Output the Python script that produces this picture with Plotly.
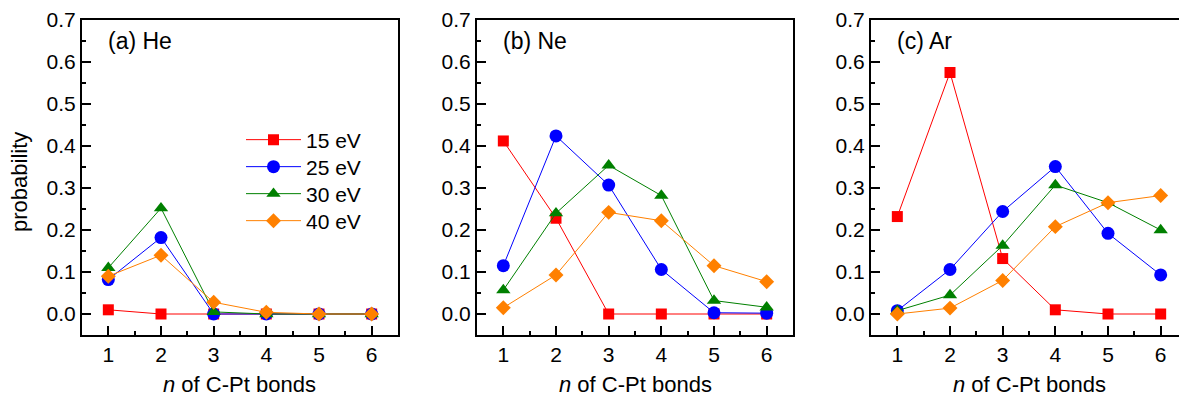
import plotly.graph_objects as go

n_bonds = [1, 2, 3, 4, 5, 6]
energies = ["15 eV", "25 eV", "30 eV", "40 eV"]

# He
he_15 = [0.010, 0.000, 0.000, 0.000, 0.000, 0.000]
he_25 = [0.082, 0.182, 0.000, 0.000, 0.000, 0.000]
he_30 = [0.110, 0.252, 0.005, 0.000, 0.000, 0.000]
he_40 = [0.090, 0.140, 0.028, 0.004, 0.000, 0.000]
# Ne
ne_15 = [0.412, 0.228, 0.000, 0.000, 0.000, 0.000]
ne_25 = [0.115, 0.424, 0.307, 0.106, 0.003, 0.002]
ne_30 = [0.057, 0.240, 0.354, 0.282, 0.032, 0.016]
ne_40 = [0.015, 0.093, 0.242, 0.222, 0.115, 0.077]
# Ar
ar_15 = [0.232, 0.575, 0.132, 0.010, 0.000, 0.000]
ar_25 = [0.008, 0.106, 0.244, 0.351, 0.192, 0.093]
ar_30 = [0.008, 0.045, 0.163, 0.307, 0.265, 0.200]
ar_40 = [0.000, 0.014, 0.080, 0.208, 0.265, 0.282]

panels = [
    ("(a) He", [he_15, he_25, he_30, he_40]),
    ("(b) Ne", [ne_15, ne_25, ne_30, ne_40]),
    ("(c) Ar", [ar_15, ar_25, ar_30, ar_40]),
]

colors = ["#FF0000", "#0000FF", "#008000", "#FF8000"]
symbols = ["square", "circle", "triangle-up", "diamond"]
msizes = [11, 13, 12.5, 11.5]

W, H = 1179, 396
FONT = "Liberation Sans, Arial, sans-serif"
xpix = [(82, 398), (477, 793), (871, 1179)]
unit = (398 - 82) / 6.0
top, bot = 20, 335
legend_rows = [140, 167, 194, 221]
legend_names = ["legend", "legend2", "legend3", "legend4"]

fig = go.Figure()
for p, (label, series) in enumerate(panels):
    ax = "" if p == 0 else str(p + 1)
    for i, ys in enumerate(series):
        fig.add_trace(go.Scatter(
            x=n_bonds, y=ys, mode="lines+markers", name=energies[i],
            xaxis="x" + ax, yaxis="y" + ax,
            line=dict(color=colors[i], width=1),
            marker=dict(symbol=symbols[i], size=msizes[i], color=colors[i], line=dict(width=0)),
            showlegend=(p == 0), legend=legend_names[i],
        ))
    x0, x1 = xpix[p]
    xr_end = 0.5 + (x1 - x0) / unit
    common = dict(showline=True, linecolor="black", linewidth=2, ticks="inside",
                  ticklen=9, tickwidth=1.5, tickcolor="black", showgrid=False, zeroline=False,
                  automargin=False,
                  tickfont=dict(family=FONT, size=21, color="black"))
    fig.update_layout(**{
        "xaxis" + ax: dict(domain=[x0 / W, x1 / W], range=[0.5, xr_end], anchor="y" + ax,
                           tickvals=n_bonds, mirror=True,
                           minor=dict(ticks="inside", ticklen=4, tickwidth=1.5, tickcolor="black", dtick=0.5, tick0=0.5),
                           **common),
        "yaxis" + ax: dict(domain=[1 - bot / H, 1 - top / H], range=[-0.05, 0.7], anchor="x" + ax,
                           dtick=0.1, tick0=0, tickformat=".1f", mirror=(p < 2),
                           minor=dict(ticks="inside", ticklen=4, tickwidth=1.5, tickcolor="black", dtick=0.05, tick0=0.05),
                           **common),
    })
    fig.add_annotation(text=label, xref="paper", yref="paper", x=(x0 + 24) / W, y=1 - 41 / H,
                       xanchor="left", yanchor="middle", showarrow=False,
                       font=dict(family=FONT, size=23, color="black"))
    fig.add_annotation(text="<i>n</i> of C-Pt bonds", xref="paper", yref="paper",
                       x=(x0 + 158) / W, y=1 - 384 / H, xanchor="center", yanchor="middle",
                       showarrow=False, font=dict(family=FONT, size=22, color="black"))

fig.add_annotation(text="probability", xref="paper", yref="paper", x=20 / W, y=1 - 182 / H,
                   textangle=-90, xanchor="center", yanchor="middle", showarrow=False,
                   font=dict(family=FONT, size=22, color="black"))

layout_legends = {}
for i, name in enumerate(legend_names):
    layout_legends[name] = dict(x=241 / W, y=1 - legend_rows[i] / H, xanchor="left", yanchor="middle",
                                bgcolor="rgba(0,0,0,0)", font=dict(family=FONT, size=21, color="black"),
                                itemwidth=55, borderwidth=0)

fig.update_layout(
    template="none",
    width=W, height=H, margin=dict(l=0, r=0, t=0, b=0, pad=0, autoexpand=False),
    paper_bgcolor="white", plot_bgcolor="white",
    showlegend=True,
    **layout_legends,
)

fig.write_html("out.html")
